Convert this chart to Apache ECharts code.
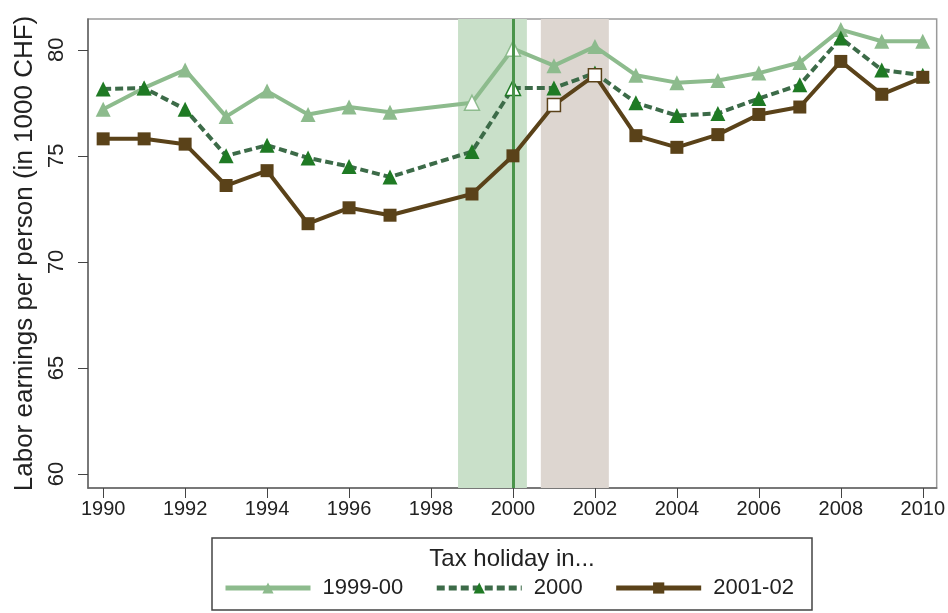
<!DOCTYPE html>
<html>
<head>
<meta charset="utf-8">
<script src="https://cdn.jsdelivr.net/npm/echarts@6/dist/echarts.min.js"></script>
<style>
  html, body { margin: 0; padding: 0; background: #fff; }
  #MyChart { width: 948px; height: 613px; }
</style>
</head>
<body>
<div id="MyChart"></div>
<script>
// years (1998 has no observation, lines connect 1997 -> 1999)
var years = [1990, 1991, 1992, 1993, 1994, 1995, 1996, 1997, 1998, 1999, 2000,
             2001, 2002, 2003, 2004, 2005, 2006, 2007, 2008, 2009, 2010];
var holiday9900 = [77.2, 78.2, 79.05, 76.85, 78.05, 76.95, 77.3, 77.05, null, 77.5, 80.05,
                   79.25, 80.15, 78.8, 78.45, 78.55, 78.9, 79.4, 80.95, 80.4, 80.4];
var holiday2000 = [78.15, 78.2, 77.2, 75.0, 75.5, 74.9, 74.5, 74.0, null, 75.2, 78.2,
                   78.2, 78.9, 77.5, 76.9, 77.0, 77.7, 78.35, 80.55, 79.05, 78.8];
var holiday0102 = [75.8, 75.8, 75.55, 73.6, 74.3, 71.8, 72.55, 72.2, null, 73.2, 75.0,
                   77.4, 78.8, 75.95, 75.4, 76.0, 76.95, 77.3, 79.45, 77.9, 78.7];
// years drawn with hollow markers (the holiday years)
var hollow9900 = [1999, 2000];
var hollow2000 = [2000];
var hollow0102 = [2001, 2002];
var xTicks = [1990, 1992, 1994, 1996, 1998, 2000, 2002, 2004, 2006, 2008, 2010];
var yTicks = [60, 65, 70, 75, 80];
// shaded holiday periods and the reference line
var greenBand = [1998.66, 2000.34];
var brownBand = [2000.68, 2002.34];
var refYear = 2000;

function buildData(values, hollowYears, color) {
  var out = [];
  for (var i = 0; i < years.length; i++) {
    if (values[i] === null) { out.push([years[i], null]); continue; }
    var item = { value: [years[i], values[i]] };
    if (hollowYears.indexOf(years[i]) >= 0) {
      item.itemStyle = { color: '#ffffff', borderColor: color, borderWidth: 1.5 };
    }
    out.push(item);
  }
  return out;
}

var cLight = '#8dbb8d';
var cDash = '#3c6b48';
var cDashMark = '#1f7a24';
var cBrown = '#5a4219';
var font = 'Liberation Sans, Arial, sans-serif';

var myChart = echarts.init(document.getElementById('MyChart'));
var option = {
  animation: false,
  textStyle: { fontFamily: font },
  grid: {
    left: 88, top: 19, right: 11, bottom: 125,
    show: true, borderColor: '#9a9a9a', borderWidth: 1.5
  },
  xAxis: {
    type: 'value',
    min: 1989.63,
    max: 2010.34,
    splitLine: { show: false },
    axisLine: { lineStyle: { color: '#666', width: 1.5 } },
    axisTick: { length: 10, lineStyle: { color: '#444' }, customValues: xTicks },
    axisLabel: { color: '#222', fontSize: 20, margin: 11, customValues: xTicks,
                 formatter: function (v) { return String(v); } }
  },
  yAxis: {
    type: 'value',
    min: 59.34,
    max: 81.45,
    name: 'Labor earnings per person (in 1000 CHF)',
    nameLocation: 'middle',
    nameGap: 42,
    nameTextStyle: { color: '#222', fontSize: 26 },
    splitLine: { show: false },
    axisLine: { show: true, lineStyle: { color: '#666', width: 1.5 } },
    axisTick: { show: true, length: 10, lineStyle: { color: '#444' }, customValues: yTicks },
    axisLabel: { color: '#222', fontSize: 22, rotate: 90, margin: 20, customValues: yTicks }
  },
  legend: {
    left: 223,
    top: 577,
    padding: 0,
    itemWidth: 85,
    itemHeight: 14,
    itemGap: 31,
    lineStyle: { width: 5 },
    textStyle: { color: '#222', fontSize: 22, padding: [0, 0, 0, 7] },
    data: ['1999-00', '2000', '2001-02']
  },
  graphic: [
    {
      type: 'rect',
      shape: { x: 212, y: 538, width: 600, height: 72 },
      style: { fill: '#fff', stroke: '#444', lineWidth: 1.5 },
      z: -1
    },
    {
      type: 'text',
      x: 512, y: 559,
      style: { text: 'Tax holiday in...', fill: '#222', fontSize: 24,
               align: 'center', verticalAlign: 'middle', fontFamily: font }
    }
  ],
  series: [
    {
      name: 'bands',
      type: 'line',
      data: [],
      z: 1,
      silent: true,
      markArea: {
        silent: true,
        data: [
          [{ xAxis: greenBand[0], itemStyle: { color: '#c9e0c9' } }, { xAxis: greenBand[1] }],
          [{ xAxis: brownBand[0], itemStyle: { color: '#ddd6d0' } }, { xAxis: brownBand[1] }]
        ]
      },
      markLine: {
        silent: true,
        symbol: 'none',
        label: { show: false },
        lineStyle: { color: '#4a944a', width: 3, type: 'solid' },
        data: [{ xAxis: refYear }]
      }
    },
    {
      name: '1999-00',
      type: 'line',
      z: 3,
      connectNulls: true,
      data: buildData(holiday9900, hollow9900, cLight),
      symbol: 'triangle',
      symbolSize: 15,
      showAllSymbol: true,
      lineStyle: { color: cLight, width: 4 },
      itemStyle: { color: cLight }
    },
    {
      name: '2000',
      type: 'line',
      z: 4,
      connectNulls: true,
      data: buildData(holiday2000, hollow2000, cDashMark),
      symbol: 'triangle',
      symbolSize: 15,
      showAllSymbol: true,
      lineStyle: { color: cDash, width: 4, type: [8, 4] },
      itemStyle: { color: cDashMark }
    },
    {
      name: '2001-02',
      type: 'line',
      z: 5,
      connectNulls: true,
      data: buildData(holiday0102, hollow0102, cBrown),
      symbol: 'rect',
      symbolSize: 13,
      showAllSymbol: true,
      lineStyle: { color: cBrown, width: 4 },
      itemStyle: { color: cBrown }
    }
  ]
};
myChart.setOption(option);
</script>
</body>
</html>
